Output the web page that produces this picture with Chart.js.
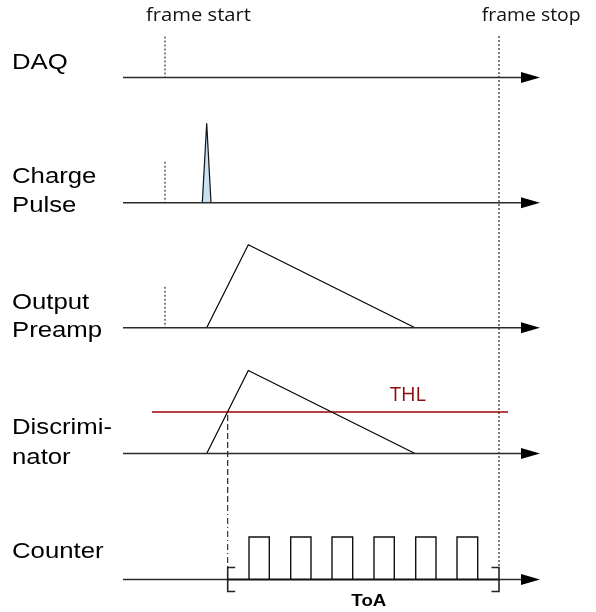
<!DOCTYPE html>
<html><head><meta charset="utf-8">
<script src="https://cdn.jsdelivr.net/npm/chart.js@4/dist/chart.umd.min.js"></script>
<style>html,body{margin:0;padding:0;background:#fff}canvas{display:block}</style>
</head><body>
<canvas id="c" width="596" height="612"></canvas>
<script>
// ---- diagram data (time units along x, signal level along y; y grows downward) ----
const channelLabelLines = [['DAQ'], ['Charge', 'Pulse'], ['Output', 'Preamp'], ['Discrimi-', 'nator'], ['Counter']];
const channelBaseline = [77.5, 202.7, 327.8, 453.5, 579.5];
const timeAxisStart = 123;
const timeAxisEnd = 540;
const frameStart = 165;
const frameStop = 499;
const frameStartMarkerChannels = [0, 1, 2];
const frameMarkerTop = 36;
const chargeTimes = [202.3, 206.7, 211];
const chargeAmp = [0, 79.5, 0];
const preampTimes = [206.7, 248.3, 415];
const preampAmp = [0, 83, 0];
const discTimes = [206.7, 248.3, 415];
const discAmp = [0, 83, 0];
const thlLevel = 41.5;
const thlRange = [152, 508];
const toaStart = 227.7;
const toaEnd = 499;
const counterRises = [249, 290.7, 332, 374, 415.7, 457];
const counterFalls = [269.3, 311, 352.7, 394.3, 436, 477.7];
const counterAmp = 42.5;
const bracketHalf = 12;
const bracketTick = 7.5;

// ---- build datasets ----
const base = { showLine: true, pointRadius: 0, tension: 0, fill: false, borderWidth: 1 };
const ds = [];
channelBaseline.forEach((b, i) => {
  if (i === 4) {
    ds.push({ ...base, data: [{x: timeAxisStart, y: b}, {x: toaStart, y: b}], borderColor: '#2a2a2a', borderWidth: 1.5 });
    ds.push({ ...base, data: [{x: toaStart, y: b}, {x: toaEnd, y: b}], borderColor: '#111', borderWidth: 2.2 });
    ds.push({ ...base, data: [{x: toaEnd, y: b}, {x: timeAxisEnd - 10, y: b}], borderColor: '#2a2a2a', borderWidth: 1.5 });
  } else {
    ds.push({ ...base, data: [{x: timeAxisStart, y: b}, {x: timeAxisEnd - 10, y: b}], borderColor: '#2a2a2a', borderWidth: 1.5 });
  }
});
// frame start markers
frameStartMarkerChannels.forEach(i => {
  const b = channelBaseline[i];
  ds.push({ ...base, data: [{x: frameStart, y: b - 41}, {x: frameStart, y: b}], borderColor: '#444', borderDash: [2, 2], borderWidth: 1.3 });
});
// frame stop
ds.push({ ...base, data: [{x: frameStop, y: frameMarkerTop}, {x: frameStop, y: channelBaseline[4] - bracketHalf}], borderColor: '#111', borderDash: [2, 2], borderWidth: 1.1 });
// charge pulse
const cb = channelBaseline[1];
ds.push({ ...base, data: chargeTimes.map((t, k) => ({x: t, y: cb - chargeAmp[k]})), borderColor: '#111', borderWidth: 1.2, backgroundColor: '#c6e2f4', fill: {value: cb} });
// preamp
const pb = channelBaseline[2];
ds.push({ ...base, data: preampTimes.map((t, k) => ({x: t, y: pb - preampAmp[k]})), borderColor: '#000', borderWidth: 1.2 });
// discriminator
const db = channelBaseline[3];
ds.push({ ...base, data: discTimes.map((t, k) => ({x: t, y: db - discAmp[k]})), borderColor: '#000', borderWidth: 1.2 });
// THL
ds.push({ ...base, data: [{x: thlRange[0], y: db - thlLevel}, {x: thlRange[1], y: db - thlLevel}], borderColor: '#a00000', borderWidth: 1.4 });
// ToA crossing marker
const kb = channelBaseline[4];
ds.push({ ...base, data: [{x: toaStart, y: db - thlLevel + 3}, {x: toaStart, y: 505}], borderColor: '#111', borderDash: [6, 3], borderWidth: 1.1 });
ds.push({ ...base, data: [{x: toaStart, y: 505}, {x: toaStart, y: kb - bracketHalf}], borderColor: '#111', borderDash: [6, 3, 1, 3], borderWidth: 1 });
// counter pulses
const cp = [];
counterRises.forEach((r, k) => {
  cp.push({x: r, y: kb}, {x: r, y: kb - counterAmp}, {x: counterFalls[k], y: kb - counterAmp}, {x: counterFalls[k], y: kb}, {x: NaN, y: NaN});
});
ds.push({ ...base, data: cp, borderColor: '#111', borderWidth: 1.4, spanGaps: false });
// brackets
ds.push({ ...base, data: [{x: toaStart + bracketTick, y: kb - bracketHalf}, {x: toaStart, y: kb - bracketHalf}, {x: toaStart, y: kb + bracketHalf}, {x: toaStart + bracketTick, y: kb + bracketHalf}], borderColor: '#222', borderWidth: 1.6 });
ds.push({ ...base, data: [{x: toaEnd - bracketTick, y: kb - bracketHalf}, {x: toaEnd, y: kb - bracketHalf}, {x: toaEnd, y: kb + bracketHalf}, {x: toaEnd - bracketTick, y: kb + bracketHalf}], borderColor: '#222', borderWidth: 1.6 });

// ---- text + arrowheads plugin ----
function drawText(ctx, txt, x, y, font, color, scaleX, align) {
  ctx.save();
  ctx.font = font; ctx.fillStyle = color; ctx.textBaseline = 'middle'; ctx.textAlign = align || 'left';
  ctx.translate(x, y); ctx.scale(scaleX, 1); ctx.fillText(txt, 0, 0);
  ctx.restore();
}
function fitText(ctx, txt, x, y, font, color, width, align) {
  ctx.save(); ctx.font = font; const w = ctx.measureText(txt).width; ctx.restore();
  drawText(ctx, txt, x, y, font, color, width / w, align);
}
const decor = {
  id: 'decor',
  afterDatasetsDraw(chart) {
    const {ctx, scales: {x, y}} = chart;
    // arrowheads
    channelBaseline.forEach(b => {
      const py = y.getPixelForValue(b);
      ctx.save(); ctx.fillStyle = '#000'; ctx.beginPath();
      ctx.moveTo(x.getPixelForValue(timeAxisEnd - 19), py - 5.5);
      ctx.lineTo(x.getPixelForValue(timeAxisEnd), py);
      ctx.lineTo(x.getPixelForValue(timeAxisEnd - 19), py + 5.5);
      ctx.closePath(); ctx.fill(); ctx.restore();
    });
    const lf = '22px "Liberation Sans", Arial, sans-serif';
    const offs = [[-14.5], [-25.5, 3.5], [-25, 3.5], [-25.5, 4], [-27.5]];
    channelLabelLines.forEach((lines, i) => {
      lines.forEach((t, k) => {
        drawText(ctx, t, 12, y.getPixelForValue(channelBaseline[i] + offs[i][k]), lf, '#000', 1.17);
      });
    });
    const of = '19px "Open Sans", sans-serif';
    fitText(ctx, 'frame start', x.getPixelForValue(146), 16, of, '#111', 105);
    fitText(ctx, 'frame stop', x.getPixelForValue(481.7), 16, of, '#111', 99);
    fitText(ctx, 'THL', x.getPixelForValue(390), y.getPixelForValue(db - thlLevel - 17), '20px "Open Sans", sans-serif', '#8e0a0a', 36);
    fitText(ctx, 'ToA', x.getPixelForValue((toaStart + toaEnd) / 2 + 5.5), y.getPixelForValue(kb + 21.5), 'bold 17px "Liberation Sans", Arial, sans-serif', '#000', 35, 'center');
  }
};

new Chart(document.getElementById('c'), {
  type: 'scatter',
  data: { datasets: ds },
  options: {
    responsive: false, animation: false, devicePixelRatio: 1,
    layout: { padding: 0 },
    plugins: { legend: { display: false }, tooltip: { enabled: false } },
    scales: {
      x: { type: 'linear', min: 0, max: 596, display: false },
      y: { type: 'linear', min: 0, max: 612, reverse: true, display: false }
    }
  },
  plugins: [decor]
});
</script>
</body></html>
